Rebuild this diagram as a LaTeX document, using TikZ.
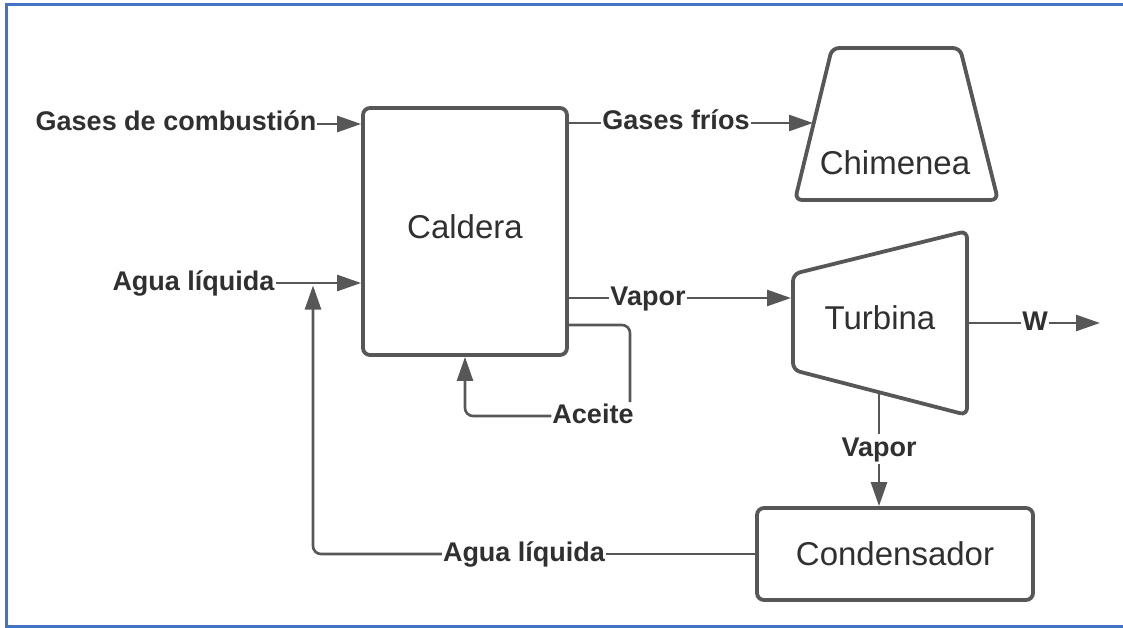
\documentclass[tikz,border=0pt]{standalone}
\usepackage{fontspec}
\setmainfont{Liberation Sans}
\usetikzlibrary{arrows.meta}
\definecolor{ln}{HTML}{575757}
\definecolor{tx}{HTML}{303030}
\definecolor{bl}{HTML}{4472C4}
\begin{document}
\begin{tikzpicture}[x=1pt,y=-1pt,
  unit/.style={draw=ln, line width=3.8pt, rounded corners=7pt},
  unittext/.style={text=tx, font=\fontsize{33}{38}\selectfont, inner sep=0pt},
  lbl/.style={text=tx, font=\fontsize{27}{31}\selectfont\bfseries, inner xsep=1pt, inner ysep=1pt, text height=19pt, text depth=5pt},
  flow/.style={draw=ln, line width=2.6pt, rounded corners=8pt},
  arr/.style={flow, -{Triangle[length=24pt,width=16pt]}},
]
\useasboundingbox (0,0) rectangle (1123,628);
% frame
\draw[bl, line width=3.2pt] (1123,4.5) -- (6.5,4.5) -- (6.5,627) -- (1123,627);

% units
\node[unit, minimum width=204pt, minimum height=247pt, inner sep=0pt] (cal) at (465,231.5) {};
\node[unittext] (caltx) at (465,227) {Caldera};
\node[unit, minimum width=276pt, minimum height=92pt, unittext] (cond) at (895,554) {Condensador};
\draw[unit] (832,48) -- (960,48) -- (998,200) -- (795,200) -- cycle;
\node[unittext] (chi) at (895,163) {Chimenea};
\draw[unit] (793,274) -- (967,231) -- (967,415) -- (793,370) -- cycle;
\node[unittext] (tur) at (880,318) {Turbina};

% connection points on the drawn shapes
\coordinate (chiin) at (813,123);
\coordinate (turin) at (791,298);
\coordinate (turout) at (967,323);
\coordinate (turbot) at (879,392);
\coordinate (wend) at (1100,323);
\coordinate (acdrop) at (630,402);
\coordinate (ret) at (313,285.5);

% labels
\node[lbl] (gc) at (176,124) {Gases de combustión};
\node[lbl] (gf) at (676,123) {Gases fríos};
\node[lbl] (v1) at (648,298) {Vapor};
\node[lbl] (ac) at (593,416) {Aceite};
\node[lbl] (al1) at (193.5,283) {Agua líquida};
\node[lbl] (al2) at (524,554) {Agua líquida};
\node[lbl] (w) at (1035,323) {W};
\node[lbl, inner ysep=3pt] (v2) at (879,449) {Vapor};

% connectors
\draw[arr] (gc.east) -- (gc.east -| cal.west);
\draw[flow] (gf.west -| cal.east) -- (gf.west);
\draw[arr] (gf.east) -- (chiin);
\draw[arr] (al1.east) -- (al1.east -| cal.west);
\draw[flow] (v1.west -| cal.east) -- (v1.west);
\draw[arr] (v1.east) -- (turin);
\draw[flow] ([yshift=-93.5pt]cal.east) -| (acdrop);
\draw[arr] (ac.west) -| (cal.south);
\draw[flow] (turout) -- (w.west);
\draw[arr] (w.east) -- (wend);
\draw[flow] (turbot) -- (v2.north);
\draw[arr] (v2.south) -- (v2.south |- cond.north);
\draw[flow] (cond.west) -- (al2.east);
\draw[arr] (al2.west) -| (ret);
\end{tikzpicture}
\end{document}
